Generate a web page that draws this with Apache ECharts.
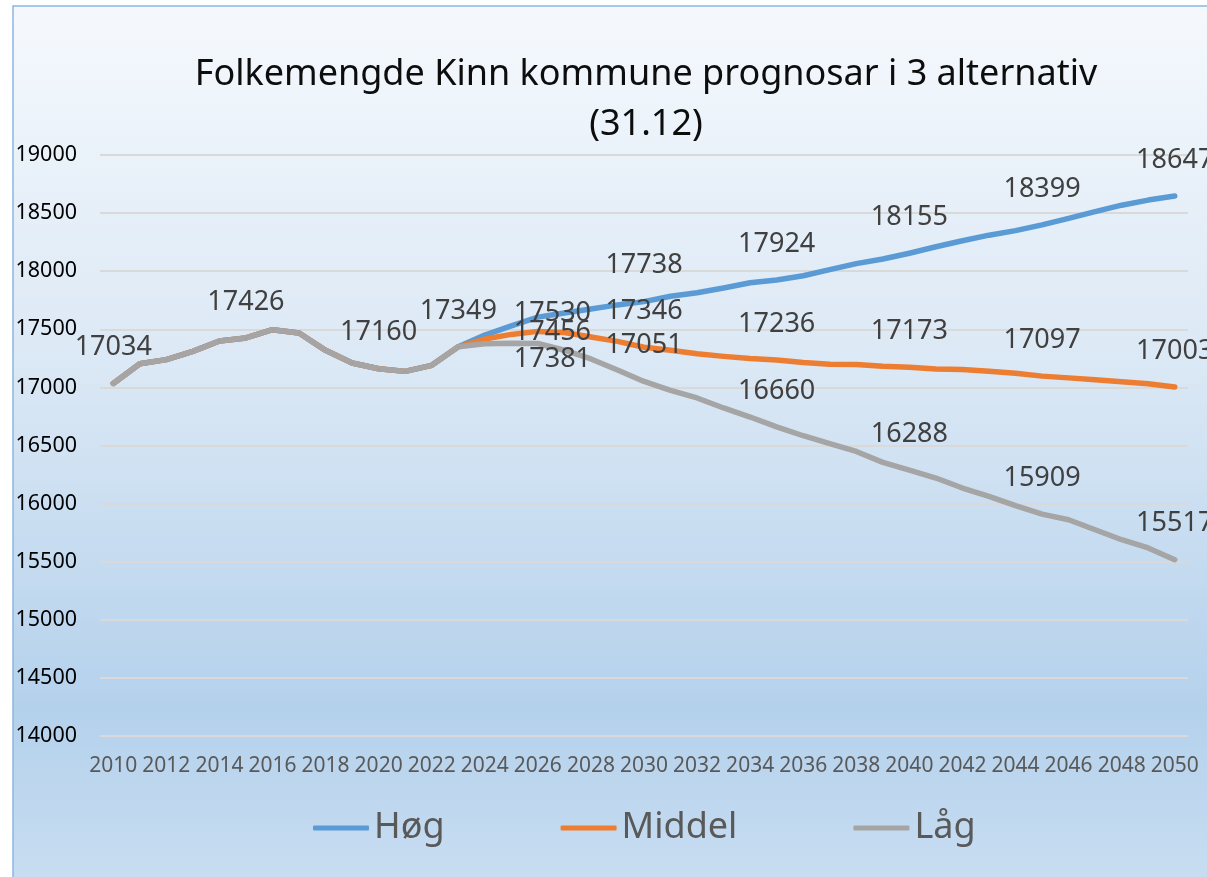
<!DOCTYPE html>
<html>
<head>
<meta charset="utf-8">
<script src="https://cdn.jsdelivr.net/npm/echarts@6/dist/echarts.min.js"></script>
<style>
  html, body { margin: 0; padding: 0; background: #fff; }
  #chart { width: 1207px; height: 877px; }
</style>
</head>
<body>
<div id="chart"></div>
<script>
// år (kategoriar)
var years = ['2010','2011','2012','2013','2014','2015','2016','2017','2018','2019',
  '2020','2021','2022','2023','2024','2025','2026','2027','2028','2029',
  '2030','2031','2032','2033','2034','2035','2036','2037','2038','2039',
  '2040','2041','2042','2043','2044','2045','2046','2047','2048','2049','2050'];

// registrert folkemengde 2010-2023 (felles for alle alternativ)
var registered = [17034, 17204, 17239, 17310, 17399, 17426, 17497, 17468, 17319, 17210,
  17160, 17138, 17190, 17349];

// prognosar 2024-2050
var hogProj = [17450, 17530, 17605, 17640, 17675, 17710, 17738, 17785, 17815, 17855,
  17900, 17924, 17961, 18013, 18065, 18105, 18155, 18210, 18262, 18310,
  18349, 18399, 18455, 18512, 18568, 18612, 18647];
var middelProj = [17416, 17456, 17482, 17473, 17434, 17396, 17346, 17319, 17290, 17267,
  17248, 17236, 17215, 17200, 17198, 17182, 17173, 17158, 17155, 17140,
  17122, 17097, 17082, 17065, 17048, 17032, 17003];
var laagProj = [17376, 17381, 17378, 17320, 17245, 17150, 17051, 16975, 16909, 16823,
  16745, 16660, 16584, 16516, 16449, 16355, 16288, 16220, 16134, 16062,
  15982, 15909, 15861, 15775, 15689, 15618, 15517];

var seriesNames = ['Høg', 'Middel', 'Låg'];
var colors = ['#5b9bd5', '#ed7d31', '#a5a5a5'];

// kva punkt som har dataetikett
var registeredLabelYears = ['2010', '2015', '2020', '2023'];
var projLabelYears = ['2025', '2030', '2035', '2040', '2045', '2050'];

var hog = registered.concat(hogProj);
var middel = registered.concat(middelProj);
var laag = registered.concat(laagProj);

var labelFont = { fontFamily: 'Noto Sans', fontSize: 27, color: '#404040' };
// etikettane for 2025 ligg til høgre for punktet
var offset2025 = [[0, -13], [0, -2], [0, 16]];

function buildData(values, k) {
  return values.map(function (v, i) {
    var y = years[i];
    var show = projLabelYears.indexOf(y) >= 0 || (k == 2 && registeredLabelYears.indexOf(y) >= 0);
    if (!show) return v;
    var lbl = Object.assign({ show: true, position: 'top', distance: 22 }, labelFont);
    if (y == '2025') {
      lbl.position = 'right';
      lbl.distance = 2;
      lbl.offset = offset2025[k];
    }
    return { value: v, label: lbl };
  });
}

var all = [hog, middel, laag];
var series = all.map(function (vals, k) {
  return {
    name: seriesNames[k],
    type: 'line',
    data: buildData(vals, k),
    symbol: 'circle',
    symbolSize: 1,
    showAllSymbol: true,
    itemStyle: { color: colors[k] },
    lineStyle: { width: 5.5, color: colors[k], cap: 'round', join: 'round' },
    emphasis: { disabled: true },
    animation: false
  };
});

var chart = echarts.init(document.getElementById('chart'));
chart.setOption({
  backgroundColor: '#fff',
  animation: false,
  graphic: [{
    type: 'rect',
    z: -100,
    silent: true,
    shape: { x: 13, y: 6, width: 1220, height: 900 },
    style: {
      fill: {
        type: 'linear', x: 0, y: 0, x2: 0, y2: 1,
        colorStops: [
          { offset: 0, color: '#f5f9fd' },
          { offset: 0.4, color: '#dbe8f5' },
          { offset: 0.78, color: '#b4d1ec' },
          { offset: 1, color: '#cbdff2' }
        ]
      },
      stroke: '#8ab6e2',
      lineWidth: 1.5
    }
  }],
  title: {
    text: 'Folkemengde Kinn kommune prognosar i 3 alternativ\n(31.12)',
    left: 646,
    top: 50,
    textAlign: 'center',
    padding: 0,
    textStyle: { fontFamily: 'Noto Sans', fontSize: 36, fontWeight: 'normal', color: '#0d0d0d', lineHeight: 50 }
  },
  legend: {
    data: seriesNames,
    left: 313,
    top: 810,
    padding: 0,
    icon: 'roundRect',
    itemWidth: 56,
    itemHeight: 5,
    itemGap: 116,
    textStyle: { fontFamily: 'Noto Sans', fontSize: 36, color: '#595959' }
  },
  grid: { left: 100, right: 19, top: 155, bottom: 141, containLabel: false },
  xAxis: {
    type: 'category',
    data: years,
    boundaryGap: true,
    axisLine: { show: false },
    axisTick: { show: false },
    axisLabel: { interval: 1, margin: 20, fontFamily: 'Noto Sans', fontSize: 21, color: '#595959' }
  },
  yAxis: {
    type: 'value',
    min: 14000,
    max: 19000,
    interval: 500,
    axisLine: { show: false },
    axisTick: { show: false },
    axisLabel: {
      margin: 23, fontFamily: 'Noto Sans', fontSize: 21.5, color: '#000',
      formatter: function (v) { return String(v); }
    },
    splitLine: { lineStyle: { color: '#d9d9d9', width: 2 } }
  },
  series: series
});
</script>
</body>
</html>
